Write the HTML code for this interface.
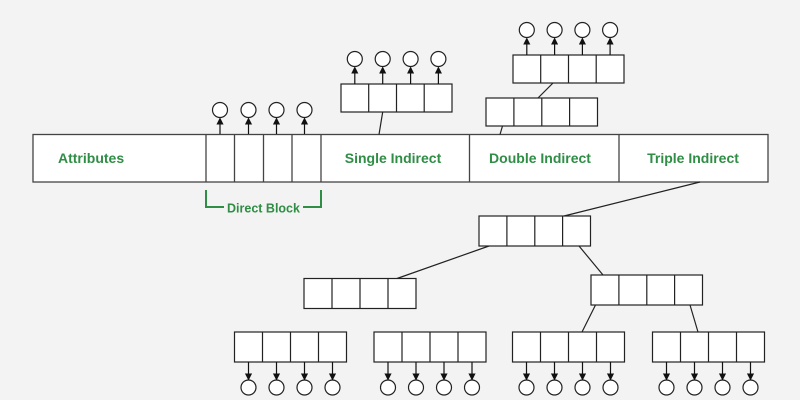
<!DOCTYPE html>
<html><head><style>html,body{margin:0;padding:0;background:#f3f3f3;overflow:hidden}svg{display:block}</style></head><body>
<svg width="800" height="400" xmlns="http://www.w3.org/2000/svg">
<defs><marker id="a" markerWidth="6" markerHeight="6" refX="3" refY="3" orient="auto"><path d="M0,0L6,3L0,6z" fill="#111"/></marker></defs>
<rect width="800" height="400" fill="#f3f3f3"/>
<g stroke="#444" stroke-width="1.3" fill="#fff">
<rect x="33" y="134.5" width="735" height="47.5"/>
<path d="M206,134.5V182M234.5,134.5V182M263.5,134.5V182M292,134.5V182M321,134.5V182M469.5,134.5V182M619,134.5V182" fill="none"/>
</g>
<g font-family="Liberation Sans, sans-serif" font-weight="bold" font-size="14" fill="#2f8d46">
<text x="58" y="163">Attributes</text>
<text x="393" y="163" text-anchor="middle">Single Indirect</text>
<text x="540" y="163" text-anchor="middle">Double Indirect</text>
<text x="693" y="163" text-anchor="middle">Triple Indirect</text>
<text x="263.5" y="212.5" text-anchor="middle" font-size="12.5">Direct Block</text>
</g>
<path d="M206,190V207H224M303,207H321V190" stroke="#2f8d46" stroke-width="2" fill="none"/>
<g stroke="#222" stroke-width="1.2" fill="none">
<line x1="382.7" y1="112" x2="379" y2="134.5"/>
<line x1="502.5" y1="126" x2="500" y2="134.5"/>
<line x1="553" y1="83" x2="538" y2="98"/>
<line x1="700" y1="182" x2="564" y2="216"/>
<line x1="489" y1="246" x2="397" y2="278.5"/>
<line x1="579" y1="246" x2="603" y2="275"/>
<line x1="595.5" y1="305" x2="582" y2="332"/>
<line x1="690" y1="305" x2="698" y2="332"/>
</g>
<g stroke="#222" stroke-width="1.2" fill="#fff">
<g><rect x="341" y="84" width="111" height="28"/><path d="M368.7,84V112M396.5,84V112M424.2,84V112"/></g>
<g><rect x="486" y="98" width="111.5" height="28"/><path d="M513.9,98V126M541.8,98V126M569.6,98V126"/></g>
<g><rect x="513" y="55" width="111" height="28"/><path d="M540.7,55V83M568.5,55V83M596.2,55V83"/></g>
<g><rect x="479" y="216" width="111.5" height="30"/><path d="M506.9,216V246M534.8,216V246M562.6,216V246"/></g>
<g><rect x="304" y="278.5" width="112" height="30"/><path d="M332,278.5V308.5M360,278.5V308.5M388,278.5V308.5"/></g>
<g><rect x="591" y="275" width="111.5" height="30"/><path d="M618.9,275V305M646.8,275V305M674.6,275V305"/></g>
<g><rect x="234.5" y="332" width="112" height="30"/><path d="M262.5,332V362M290.5,332V362M318.5,332V362"/></g>
<g><rect x="374" y="332" width="112" height="30"/><path d="M402,332V362M430,332V362M458,332V362"/></g>
<g><rect x="512.5" y="332" width="112" height="30"/><path d="M540.5,332V362M568.5,332V362M596.5,332V362"/></g>
<g><rect x="652.5" y="332" width="112" height="30"/><path d="M680.5,332V362M708.5,332V362M736.5,332V362"/></g>
<circle cx="220" cy="110" r="7.5"/><circle cx="248.5" cy="110" r="7.5"/><circle cx="276.5" cy="110" r="7.5"/><circle cx="304.5" cy="110" r="7.5"/>
<circle cx="354.8" cy="59" r="7.5"/><circle cx="382.7" cy="59" r="7.5"/><circle cx="410.6" cy="59" r="7.5"/><circle cx="438.4" cy="59" r="7.5"/>
<circle cx="526.8" cy="30" r="7.5"/><circle cx="554.6" cy="30" r="7.5"/><circle cx="582.4" cy="30" r="7.5"/><circle cx="610.1" cy="30" r="7.5"/>
<circle cx="248.5" cy="387.5" r="7.5"/><circle cx="276.5" cy="387.5" r="7.5"/><circle cx="304.5" cy="387.5" r="7.5"/><circle cx="332.5" cy="387.5" r="7.5"/>
<circle cx="388" cy="387.5" r="7.5"/><circle cx="416" cy="387.5" r="7.5"/><circle cx="444" cy="387.5" r="7.5"/><circle cx="472" cy="387.5" r="7.5"/>
<circle cx="526.5" cy="387.5" r="7.5"/><circle cx="554.5" cy="387.5" r="7.5"/><circle cx="582.5" cy="387.5" r="7.5"/><circle cx="610.5" cy="387.5" r="7.5"/>
<circle cx="666.5" cy="387.5" r="7.5"/><circle cx="694.5" cy="387.5" r="7.5"/><circle cx="722.5" cy="387.5" r="7.5"/><circle cx="750.5" cy="387.5" r="7.5"/>
</g>
<g stroke="#111" stroke-width="1.2" marker-end="url(#a)">
<line x1="220" y1="134" x2="220" y2="121"/><line x1="248.5" y1="134" x2="248.5" y2="121"/><line x1="276.5" y1="134" x2="276.5" y2="121"/><line x1="304.5" y1="134" x2="304.5" y2="121"/>
<line x1="354.8" y1="84" x2="354.8" y2="70"/><line x1="382.7" y1="84" x2="382.7" y2="70"/><line x1="410.6" y1="84" x2="410.6" y2="70"/><line x1="438.4" y1="84" x2="438.4" y2="70"/>
<line x1="526.8" y1="55" x2="526.8" y2="41"/><line x1="554.6" y1="55" x2="554.6" y2="41"/><line x1="582.4" y1="55" x2="582.4" y2="41"/><line x1="610.1" y1="55" x2="610.1" y2="41"/>
<line x1="248.5" y1="362" x2="248.5" y2="377"/><line x1="276.5" y1="362" x2="276.5" y2="377"/><line x1="304.5" y1="362" x2="304.5" y2="377"/><line x1="332.5" y1="362" x2="332.5" y2="377"/>
<line x1="388" y1="362" x2="388" y2="377"/><line x1="416" y1="362" x2="416" y2="377"/><line x1="444" y1="362" x2="444" y2="377"/><line x1="472" y1="362" x2="472" y2="377"/>
<line x1="526.5" y1="362" x2="526.5" y2="377"/><line x1="554.5" y1="362" x2="554.5" y2="377"/><line x1="582.5" y1="362" x2="582.5" y2="377"/><line x1="610.5" y1="362" x2="610.5" y2="377"/>
<line x1="666.5" y1="362" x2="666.5" y2="377"/><line x1="694.5" y1="362" x2="694.5" y2="377"/><line x1="722.5" y1="362" x2="722.5" y2="377"/><line x1="750.5" y1="362" x2="750.5" y2="377"/>
</g>
</svg>
</body></html>
